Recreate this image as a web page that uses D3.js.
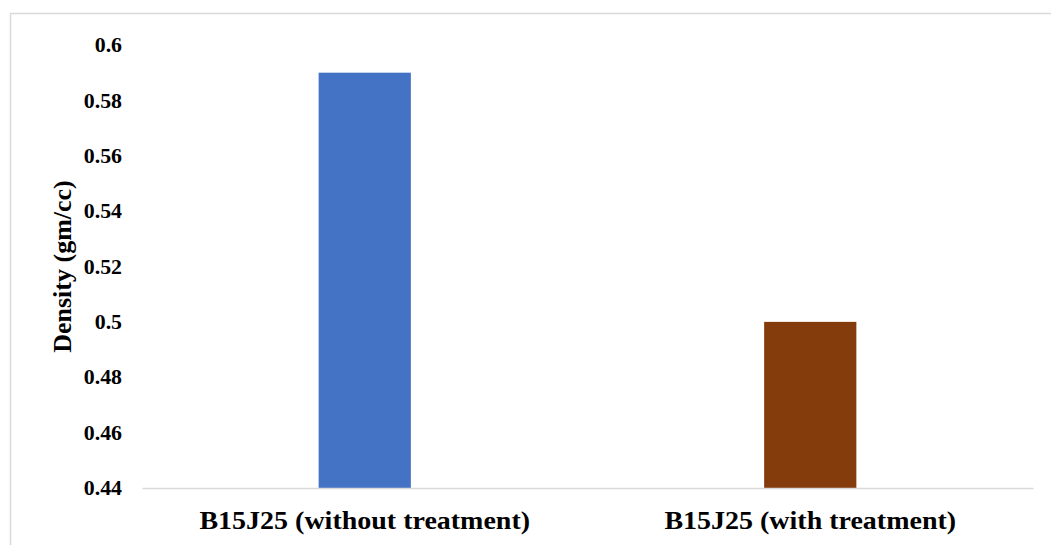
<!DOCTYPE html>
<html>
<head>
<meta charset="utf-8">
<script src="https://cdn.jsdelivr.net/npm/d3@7"></script>
<style>
  html, body { margin: 0; padding: 0; background: #fff; }
  svg { display: block; }
  text { font-family: "Liberation Serif", "Times New Roman", serif; font-weight: bold; fill: #000; }
</style>
</head>
<body>
<svg id="chart" width="1051" height="545"></svg>
<script>
// Density of B15J25 samples, with and without treatment
const categories = ["B15J25 (without treatment)", "B15J25 (with treatment)"];
const densities = [0.59, 0.50];
const barColors = ["#4472C4", "#843C0C"];
const yTicks = [0.44, 0.46, 0.48, 0.5, 0.52, 0.54, 0.56, 0.58, 0.6];
const yTitle = "Density (gm/cc)";

const svg = d3.select("#chart");
const W = 1051, H = 545;
const plot = { left: 142, right: 1033, top: 45, bottom: 488 };

// chart frame
svg.append("rect")
  .attr("x", 10.5).attr("y", 13.5)
  .attr("width", W).attr("height", H)
  .attr("fill", "#fff")
  .attr("stroke", "#d9d9d9").attr("stroke-width", 1.5);

const x = d3.scaleBand()
  .domain(categories)
  .range([plot.left, plot.right])
  .padding(0);

const y = d3.scaleLinear()
  .domain([0.44, 0.6])
  .range([plot.bottom, plot.top]);

const barWidth = x.bandwidth() * 0.207;

// bars
svg.append("g")
  .selectAll("rect")
  .data(categories)
  .join("rect")
  .attr("x", (d) => x(d) + x.bandwidth() / 2 - barWidth / 2)
  .attr("y", (d, i) => y(densities[i]))
  .attr("width", barWidth)
  .attr("height", (d, i) => y(0.44) - y(densities[i]))
  .attr("fill", (d, i) => barColors[i]);

// y axis: labels only
const yAxis = svg.append("g")
  .attr("transform", `translate(${plot.left - 20},0)`)
  .call(d3.axisLeft(y).tickValues(yTicks).tickSize(0).tickPadding(0)
    .tickFormat((d) => String(+d.toFixed(2))));
yAxis.select(".domain").remove();
yAxis.selectAll("text")
  .attr("x", 0)
  .attr("transform", "scale(1.04,1)")
  .style("font-family", "'Liberation Serif', 'Times New Roman', serif")
  .style("font-weight", "bold")
  .style("font-size", "21px")
  .attr("fill", "#000");

// x axis baseline and labels
const xAxis = svg.append("g")
  .attr("transform", `translate(0,${plot.bottom})`)
  .call(d3.axisBottom(x).tickSize(0));
xAxis.select(".domain")
  .attr("stroke", "#d9d9d9").attr("stroke-width", 1.5);
xAxis.selectAll("text")
  .attr("y", 41).attr("dy", null)
  .attr("transform", "scale(1.12,1)")
  .style("font-family", "'Liberation Serif', 'Times New Roman', serif")
  .style("font-weight", "bold")
  .style("font-size", "25px")
  .attr("fill", "#000");

// y axis title
svg.append("text")
  .attr("transform", `translate(71,${(plot.top + plot.bottom) / 2}) rotate(-90)`)
  .attr("text-anchor", "middle")
  .style("font-size", "26px")
  .text(yTitle);
</script>
</body>
</html>
